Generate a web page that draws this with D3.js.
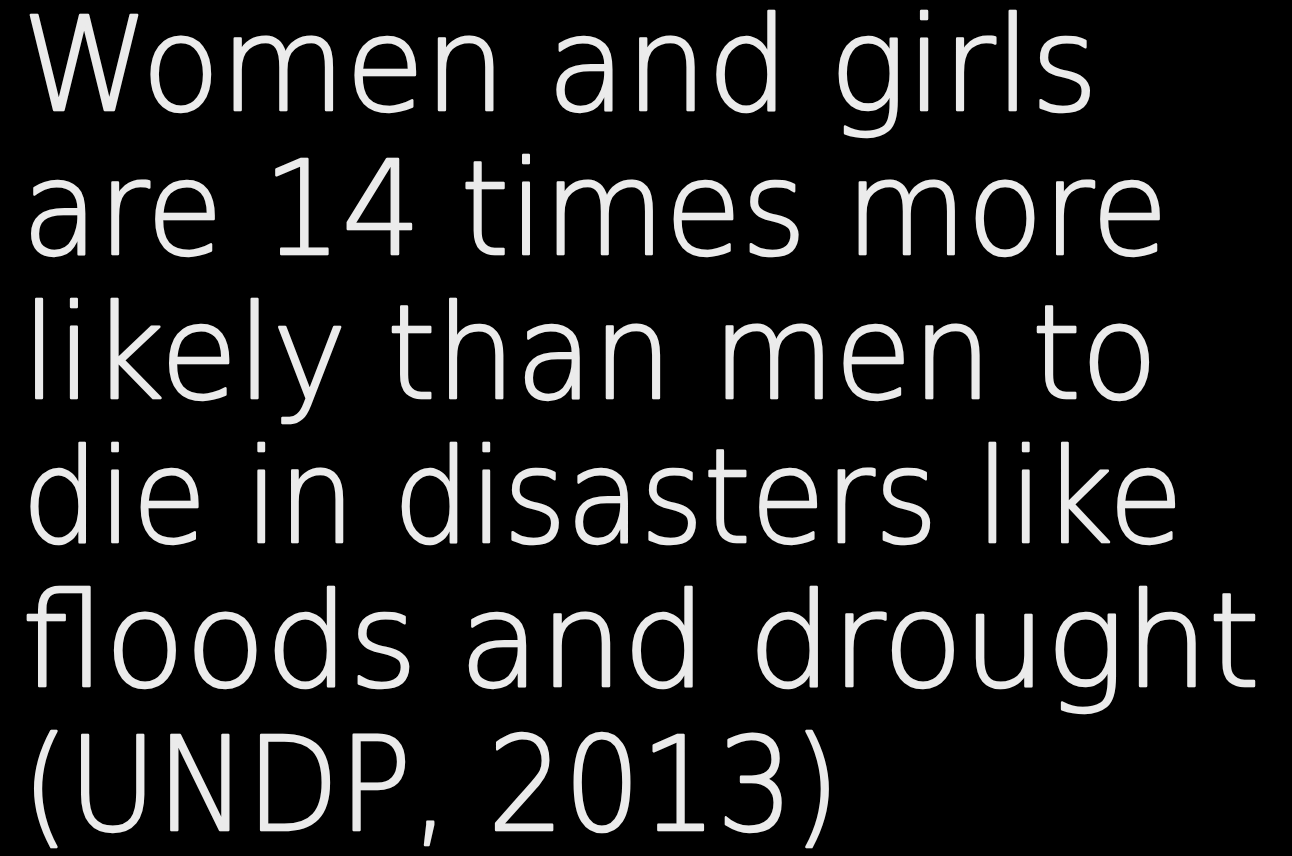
<!DOCTYPE html>
<html>
<head>
<meta charset="utf-8">
<script src="https://cdn.jsdelivr.net/npm/d3@7"></script>
<style>
  html, body { margin: 0; padding: 0; background: #000; overflow: hidden; }
</style>
</head>
<body>
<div id="chart"></div>
<script>
var width = 1292;
var height = 856;

// the slide text, one entry per line
var lines = [
  "Women and girls",
  "are 14 times more",
  "likely than men to",
  "die in disasters like",
  "floods and drought",
  "(UNDP, 2013)"
];

// where each line's ink stops on the right (layout)
var lineRight = [1098, 1168, 1158, 1183, 1260, 840];

var svg = d3.select("#chart")
    .append("svg")
    .attr("width", width)
    .attr("height", height);

svg.append("rect")
    .attr("width", width)
    .attr("height", height)
    .attr("fill", "#000");

var lineY = d3.scaleLinear()
    .domain([0, lines.length - 1])
    .range([110, 830]);

var left = 22;

// thin face plus a hairline stroke, closer to the slide's light geometric type
svg.selectAll("text.line")
    .data(lines)
    .enter()
    .append("text")
    .attr("class", "line")
    .attr("x", left)
    .attr("y", (d, i) => lineY(i))
    .attr("textLength", (d, i) => lineRight[i] - left)
    .attr("lengthAdjust", "spacingAndGlyphs")
    .style("font-family", "'DejaVu Sans', sans-serif")
    .style("font-weight", 200)
    .style("font-size", "130px")
    .style("fill", "#ebebeb")
    .style("stroke", "#ebebeb")
    .style("stroke-width", 2.5)
    .style("stroke-linejoin", "round")
    .text(d => d);
</script>
</body>
</html>
